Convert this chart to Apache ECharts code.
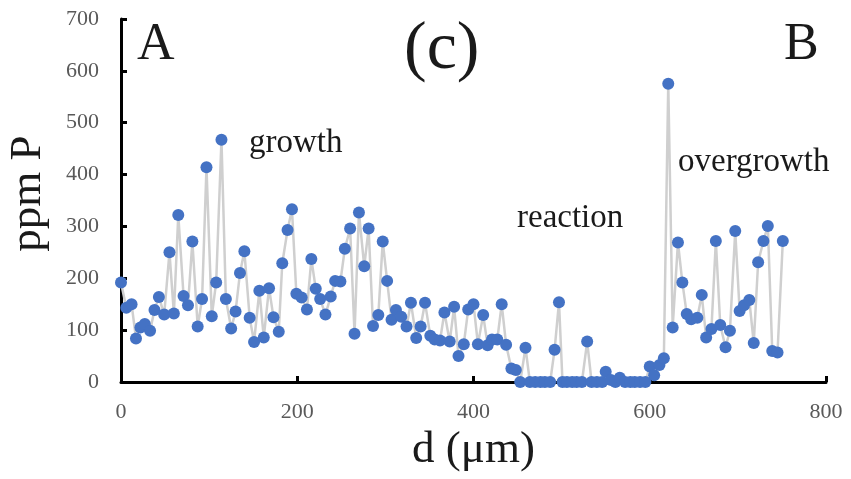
<!DOCTYPE html>
<html>
<head>
<meta charset="utf-8">
<script src="https://cdn.jsdelivr.net/npm/echarts@6/dist/echarts.min.js"></script>
<style>
  html, body { margin: 0; padding: 0; background: #fff; }
  #chart { width: 851px; height: 479px; }
</style>
</head>
<body>
<div id="chart"></div>
<script>
// distance along the profile (µm) and P content (ppm)
const dist = [
  0, 6, 12, 17, 22, 27, 33, 38, 43, 49, 55, 60, 65, 71, 76, 81, 87, 92, 97, 103,
  108, 114, 119, 125, 130, 135, 140, 146, 151, 157, 162, 168, 173, 179, 183, 189, 194, 199, 205, 211,
  216, 221, 226, 232, 238, 243, 249, 254, 260, 265, 270, 276, 281, 286, 292, 297, 302, 307, 312, 318,
  324, 329, 335, 340, 345, 351, 356, 362, 367, 373, 378, 383, 389, 394, 400, 405, 411, 416, 421, 427,
  432, 437, 443, 448, 453, 459, 464, 470, 476, 481, 487, 492, 497, 501, 506, 512, 517, 523, 529, 534,
  540, 546, 550, 556, 561, 566, 572, 578, 583, 589, 595, 600, 605, 611, 616, 621, 626, 632, 637, 642,
  647, 654, 659, 664, 670, 675, 680, 686, 691, 697, 702, 707, 713, 718, 723, 729, 734, 739, 745, 751
];
const ppmP = [
  192, 143, 150, 84, 105, 112, 99, 139, 164, 130, 250, 132, 322, 166, 148, 271, 107, 160, 414, 127,
  192, 467, 160, 103, 136, 210, 252, 124, 77, 176, 86, 181, 125, 97, 229, 293, 333, 170, 163, 140,
  237, 180, 160, 130, 165, 195, 194, 257, 296, 93, 327, 223, 296, 108, 129, 271, 195, 120, 139, 126,
  107, 153, 85, 107, 153, 89, 82, 80, 134, 78, 145, 50, 73, 140, 150, 73, 129, 71, 82, 82,
  150, 72, 26, 23, 0, 66, 0, 0, 0, 0, 0, 62, 154, 0, 0, 0, 0, 0, 78, 0,
  0, 0, 20, 4, 0, 8, 0, 0, 0, 0, 0, 30, 13, 33, 46, 575, 105, 269, 192, 131,
  121, 124, 168, 86, 102, 272, 110, 67, 99, 291, 137, 148, 158, 75, 231, 272, 301, 60, 57, 272
];
const xTicks = [0, 200, 400, 600, 800];
const yTicks = [0, 100, 200, 300, 400, 500, 600, 700];

const serif = '"Liberation Serif", "DejaVu Serif", serif';
const chart = echarts.init(document.getElementById('chart'));

const axisCommon = {
  axisLine: { show: true, lineStyle: { color: '#000', width: 3 } },
  axisTick: { show: true, inside: true, length: 6, lineStyle: { color: '#000', width: 3 } },
  splitLine: { show: false },
  axisLabel: { color: '#595959', fontFamily: serif, fontSize: 22 },
  nameTextStyle: { color: '#1a1a1a', fontFamily: serif, fontSize: 45 },
  nameLocation: 'middle'
};

chart.setOption({
  backgroundColor: '#fff',
  animation: false,
  grid: { left: 121, right: 25, top: 19, bottom: 97, containLabel: false, outerBoundsMode: 'none' },
  xAxis: Object.assign({}, axisCommon, {
    type: 'value',
    min: xTicks[0],
    max: xTicks[xTicks.length - 1],
    interval: 200,
    name: 'd (μm)',
    nameGap: 41,
    axisLabel: Object.assign({}, axisCommon.axisLabel, { margin: 19 })
  }),
  yAxis: Object.assign({}, axisCommon, {
    type: 'value',
    min: yTicks[0],
    max: yTicks[yTicks.length - 1],
    interval: 100,
    name: 'ppm P',
    nameGap: 70,
    nameTextStyle: Object.assign({}, axisCommon.nameTextStyle, { padding: [0, 0, 0, 14] }),
    axisLabel: Object.assign({}, axisCommon.axisLabel, { margin: 22 })
  }),
  series: [{
    type: 'line',
    data: dist.map((d, i) => [d, ppmP[i]]),
    symbol: 'circle',
    symbolSize: 12,
    showSymbol: true,
    itemStyle: { color: '#4472C4' },
    lineStyle: { color: '#cfcfcf', width: 2.5 },
    z: 2
  }],
  graphic: [
    { type: 'text', left: 137, top: 19, style: { text: 'A', font: '52px ' + serif, fill: '#1a1a1a' } },
    { type: 'text', left: 404, top: 16, style: { text: '(c)', font: '68px ' + serif, fill: '#1a1a1a' } },
    { type: 'text', left: 784, top: 19, style: { text: 'B', font: '52px ' + serif, fill: '#1a1a1a' } },
    { type: 'text', left: 249, top: 127, style: { text: 'growth', font: '33px ' + serif, fill: '#1a1a1a' } },
    { type: 'text', left: 517, top: 202, style: { text: 'reaction', font: '33px ' + serif, fill: '#1a1a1a' } },
    { type: 'text', left: 678, top: 146, style: { text: 'overgrowth', font: '33px ' + serif, fill: '#1a1a1a' } }
  ]
});
</script>
</body>
</html>
